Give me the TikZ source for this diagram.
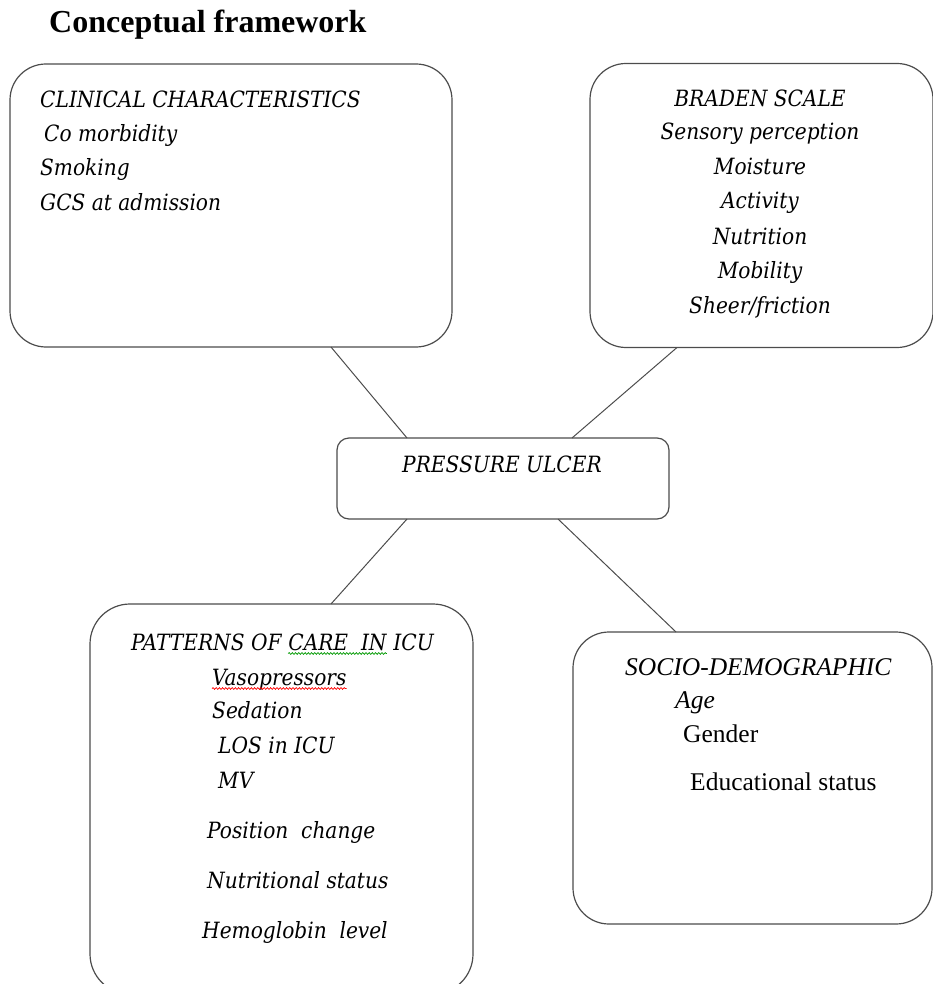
\documentclass[tikz,border=0pt]{standalone}
\usepackage{fontspec}
\setmainfont{Liberation Serif}
\newfontfamily\cam{DejaVu Serif Condensed}
\usetikzlibrary{decorations.pathmorphing}
\begin{document}
\begin{tikzpicture}[x=1pt,y=-1pt,
  box/.style={draw=black!70, line width=1.2pt, rounded corners=#1, inner sep=0pt, outer sep=0pt},
  box/.default=36pt,
  ct/.style={inner sep=0pt, font=\cam\itshape\fontsize{22.4}{26}\selectfont},
  tm/.style={inner sep=0pt, font=\fontsize{25.5}{30}\selectfont},
  link/.style={draw=black!70, line width=1pt},
  squig/.style={decorate, decoration={snake, amplitude=0.9pt, segment length=3.2pt}, line width=0.7pt}]
\useasboundingbox (0,0) rectangle (933,984);

\node[anchor=base west, inner sep=0pt, font=\bfseries\fontsize{32}{36}\selectfont] (title) at (49,33) {Conceptual framework};

\node[box, minimum width=442pt, minimum height=283pt] (tl) at (231,205.5) {};
\node[box, minimum width=343pt, minimum height=284pt] (tr) at (761.5,205.5) {};
\node[box=12pt, minimum width=332pt, minimum height=81pt] (pu) at (503,478.5) {};
\node[box=40pt, minimum width=383pt, minimum height=390pt] (bl) at (281.5,799) {};
\node[box, minimum width=359pt, minimum height=292pt] (br) at (752.5,778) {};

% top left
\node[ct, anchor=base west] (c1) at (40,108) {CLINICAL CHARACTERISTICS};
\node[ct, anchor=base west] (c2) at (44,142) {Co morbidity};
\node[ct, anchor=base west] (c3) at (40,176) {Smoking};
\node[ct, anchor=base west] (c4) at (40,211) {GCS at admission};

% top right
\node[ct, anchor=base] (b1) at (760,107) {BRADEN SCALE};
\node[ct, anchor=base] (b2) at (760,140) {Sensory perception};
\node[ct, anchor=base] (b3) at (760,175) {Moisture};
\node[ct, anchor=base] (b4) at (760,209) {Activity};
\node[ct, anchor=base] (b5) at (760,244) {Nutrition};
\node[ct, anchor=base] (b6) at (760,278) {Mobility};
\node[ct, anchor=base] (b7) at (760,313) {Sheer/friction};

% center
\node[ct, anchor=base] (p1) at (502,472) {PRESSURE ULCER};

% bottom left
\node[ct, anchor=base west] (l1a) at (131,650) {PATTERNS OF\ \mbox{}};
\node[ct, anchor=base west] (l1b) at (l1a.base east) {CARE\ \ IN};
\node[ct, anchor=base west] (l1c) at (l1b.base east) {\mbox{}\ ICU};
\node[ct, anchor=base west] (l2) at (212,685) {Vasopressors};
\node[ct, anchor=base west] (l3) at (212,718) {Sedation};
\node[ct, anchor=base west] (l4) at (218,753) {LOS in ICU};
\node[ct, anchor=base west] (l5) at (218,788) {MV};
\node[ct, anchor=base west] (l6) at (207,838) {Position\ \ change};
\node[ct, anchor=base west] (l7) at (207,888) {Nutritional status};
\node[ct, anchor=base west] (l8) at (202,938) {Hemoglobin\ \ level};

\draw[squig, green!60!black] ([yshift=-3.5pt]l1b.base west) -- ([yshift=-3.5pt]l1b.base east);
\draw[squig, red] ([yshift=-3.5pt]l2.base west) -- ([yshift=-3.5pt]l2.base east);

% bottom right
\node[tm, anchor=base west, font=\itshape\fontsize{25.5}{30}\selectfont] (s1) at (625,675) {SOCIO-DEMOGRAPHIC};
\node[tm, anchor=base west, font=\itshape\fontsize{25.5}{30}\selectfont] (s2) at (675,708) {Age};
\node[tm, anchor=base west] (s3) at (683,742) {Gender};
\node[tm, anchor=base west] (s4) at (690,790) {Educational status};

% connectors
\draw[link] ([xshift=100pt]tl.south) -- ([xshift=-96pt]pu.north);
\draw[link] ([xshift=-84.5pt]tr.south) -- ([xshift=69pt]pu.north);
\draw[link] ([xshift=-96pt]pu.south) -- ([xshift=49.5pt]bl.north);
\draw[link] ([xshift=55pt]pu.south) -- ([xshift=-76.5pt]br.north);
\end{tikzpicture}
\end{document}
